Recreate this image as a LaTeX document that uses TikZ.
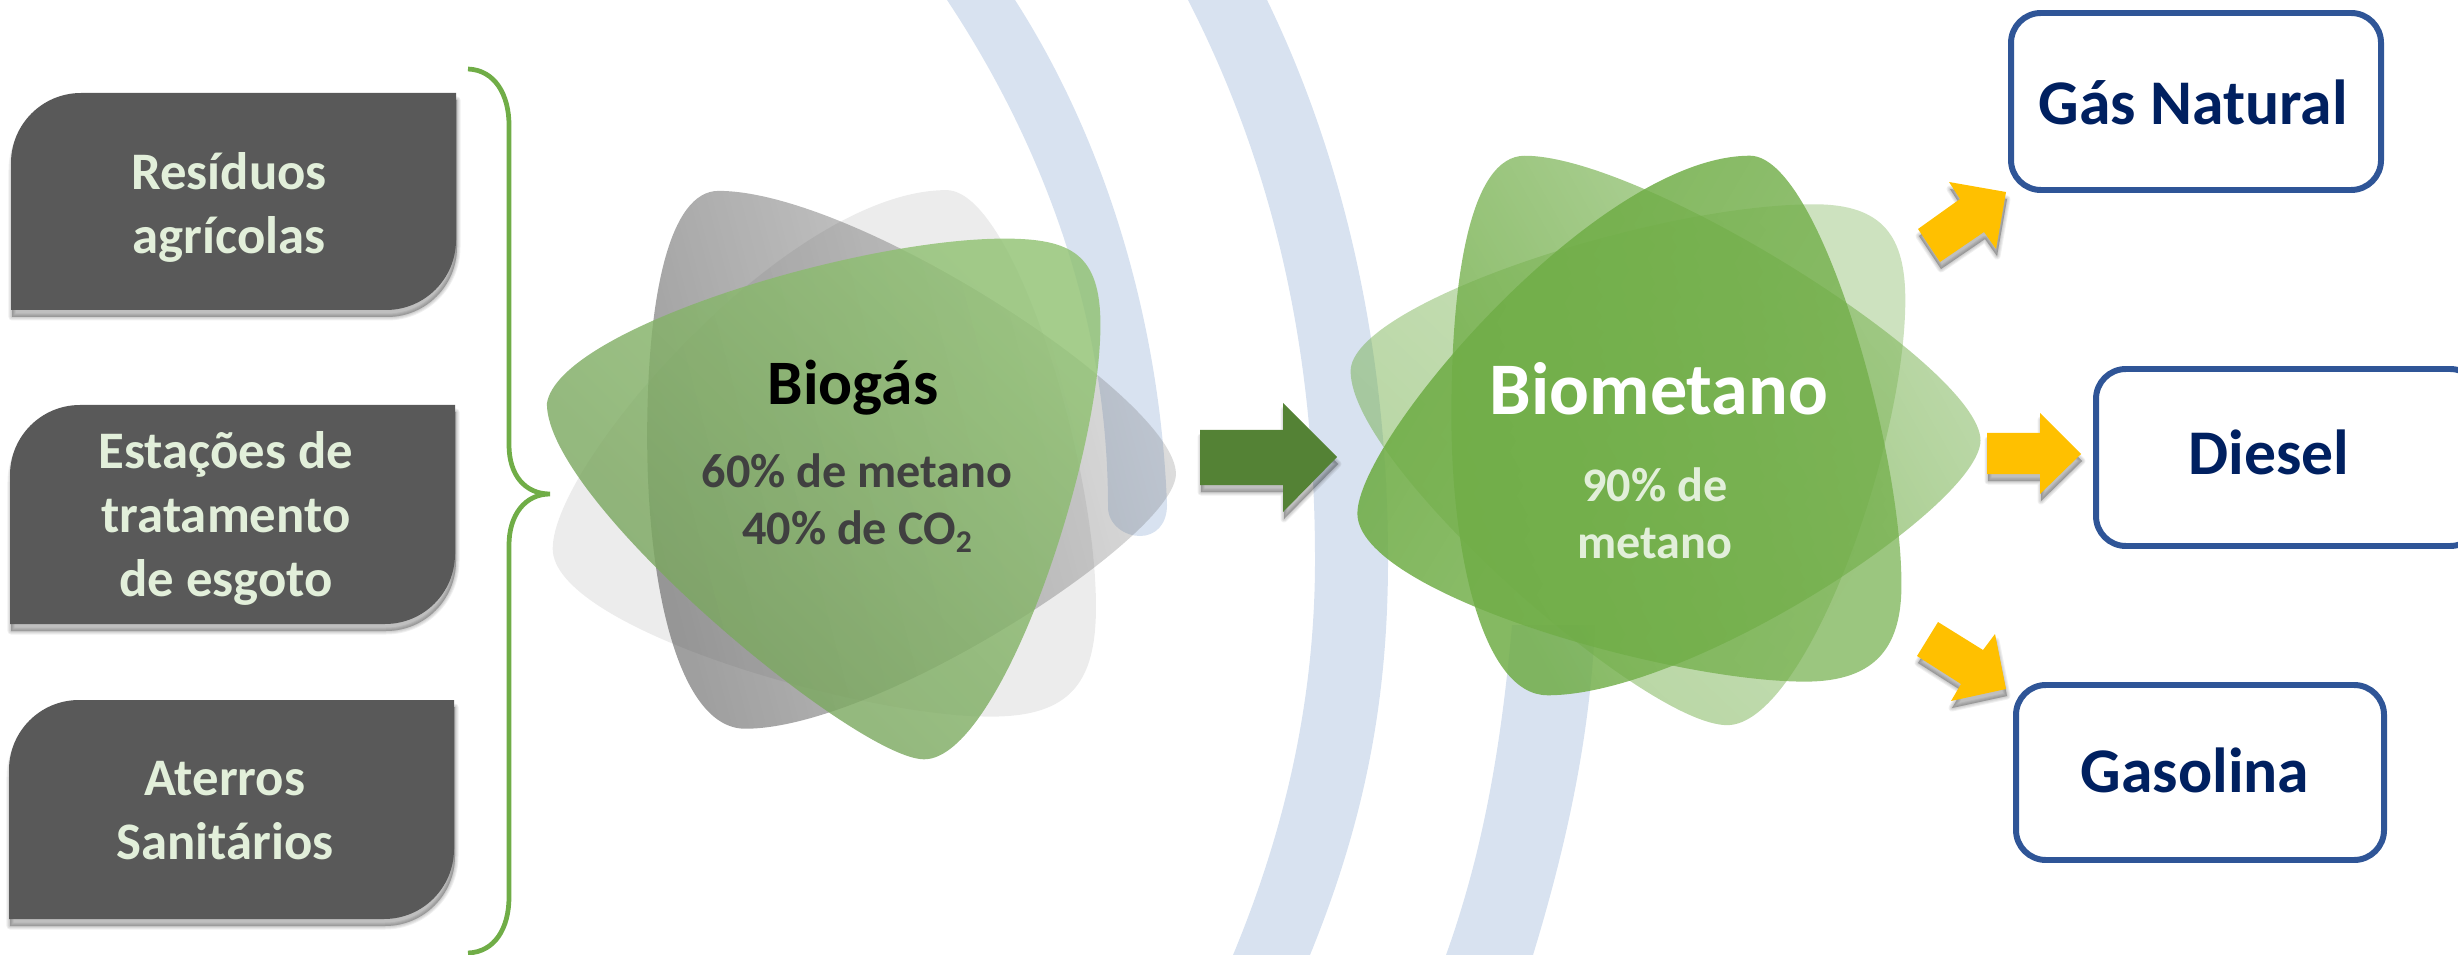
\documentclass[tikz,border=0pt]{standalone}
\usepackage{fontspec}
\setmainfont{Carlito}
\usetikzlibrary{fadings}
\definecolor{arcblue}{HTML}{D8E2F0}
\definecolor{leaf}{HTML}{70AD47}
\definecolor{leafdark}{HTML}{548235}
\definecolor{bioglight}{HTML}{91C273}
\definecolor{biogdark}{HTML}{76A15C}
\definecolor{slate}{HTML}{595959}
\definecolor{mint}{HTML}{E2EFDA}
\definecolor{gold}{HTML}{FFC000}
\definecolor{frameblue}{HTML}{2F5597}
\definecolor{navy}{HTML}{002060}
\definecolor{inkgray}{HTML}{404040}
\tikzfading[name=fadeGray, bottom color=transparent!42, top color=transparent!80]
\tikzfading[name=fadeB, bottom color=transparent!15, top color=transparent!55]
\tikzfading[name=fadeA, bottom color=transparent!8, top color=transparent!30]
\tikzfading[name=fadeC, bottom color=transparent!48, top color=transparent!65]
\tikzset{
  x=0.01cm, y=-0.01cm,
  arcband/.style={fill=arcblue, draw=none},
  sourcebox/.style={fill=slate, draw=none},
  sourcetext/.style={text=mint, font=\fontsize{15}{18.2}\selectfont\bfseries, align=center, inner sep=0pt},
  fuelbox/.style={draw=frameblue, line width=1.7pt, rounded corners=8.5pt, fill=white, inner sep=0pt},
  fueltext/.style={text=navy, font=\fontsize{18.1}{21}\selectfont\bfseries, inner sep=0pt, anchor=base},
  subtext/.style={font=\fontsize{13.7}{16.2}\selectfont\bfseries, align=center, inner sep=0pt},
  blockarrow/.style={fill=gold, draw=none},
}
\newcommand{\softshadow}[1]{%
  \begin{scope}[shift={(1,7)}]
    \fill[black, opacity=.25] #1;
    \foreach \w in {7,5,3,1}{\draw[black, opacity=.06, line width=\w*0.2845pt, line join=round] #1;}
  \end{scope}}
\newcommand{\diagbox}[4]{(#1+70,#2) -- (#3,#2) -- (#3,#4-70) .. controls +(0,38.7) and +(38.7,0) .. (#3-70,#4) -- (#1,#4) -- (#1,#2+70) .. controls +(0,-38.7) and +(-38.7,0) .. (#1+70,#2) -- cycle}
\begin{document}
\begin{tikzpicture}
\useasboundingbox (0,0) rectangle (2458,955);
% background arcs
\fill[arcband] (947,0) .. controls (1030,125) and (1108,300) .. (1108,507) .. controls (1108,525) and (1125,536) .. (1140,536) .. controls (1155,536) and (1167,525) .. (1167,505) .. controls (1160,320) and (1105,140) .. (1015,0) -- cycle;
\fill[arcband] (1188,0) .. controls (1270,160) and (1315,340) .. (1315,560) .. controls (1315,700) and (1285,830) .. (1233,955) -- (1310,955) .. controls (1365,820) and (1388,700) .. (1388,560) .. controls (1388,340) and (1340,150) .. (1267,0) -- cycle;
\fill[arcband] (1512,625) .. controls (1500,760) and (1480,860) .. (1446,955) -- (1533,955) .. controls (1565,850) and (1590,740) .. (1595,625) -- cycle;
% source boxes
\softshadow{\diagbox{11}{93}{456}{310}}
\fill[sourcebox] \diagbox{11}{93}{456}{310};
\softshadow{\diagbox{10}{405}{455}{624}}
\fill[sourcebox] \diagbox{10}{405}{455}{624};
\softshadow{\diagbox{9}{700}{454}{919}}
\fill[sourcebox] \diagbox{9}{700}{454}{919};
\node[sourcetext] (residuos) at (229,207) {Resíduos\\agrícolas};
\node[sourcetext] (estacoes) at (226,518) {Estações de\\tratamento\\de esgoto};
\node[sourcetext] (aterros) at (225,811) {Aterros\\Sanitários};
% brace
\draw[leaf, line width=1.35pt] (468,69) .. controls (495,70) and (509,95) .. (509,125) -- (509,445) .. controls (509,475) and (525,494) .. (550,494) .. controls (525,494) and (509,515) .. (509,545) -- (509,897) .. controls (509,928) and (495,952) .. (468,953);
% biogas flower
\begin{scope}[shift={(500,130)}, xscale=1/2.24, yscale=1/2.412]
\fill[gray, opacity=.15] (118,1010) .. controls (118,800) and (650,145) .. (1000,145) .. controls (1150,145) and (1335,800) .. (1335,1150) .. controls (1335,1330) and (1280,1415) .. (1100,1415) .. controls (800,1415) and (118,1200) .. (118,1010) -- cycle;
\fill[slate, path fading=fadeGray, fading angle=-75] (330,740) .. controls (330,400) and (380,147) .. (490,147) .. controls (800,147) and (1515,650) .. (1515,830) .. controls (1515,980) and (850,1445) .. (550,1445) .. controls (400,1445) and (330,1100) .. (330,740) -- cycle;
\shade[fill opacity=.82, top color=bioglight, bottom color=biogdark, shading angle=-45] (105,660) .. controls (130,480) and (800,262) .. (1130,262) .. controls (1280,262) and (1345,300) .. (1345,470) .. controls (1345,800) and (1120,1518) .. (950,1518) .. controls (800,1518) and (105,900) .. (105,660) -- cycle;
\end{scope}
% biometano flower
\begin{scope}[shift={(1300,130)}, xscale=1/2.178, yscale=1/2.529]
\fill[leaf, path fading=fadeC, fading angle=-45] (110,610) .. controls (110,440) and (770,188) .. (1120,188) .. controls (1270,188) and (1318,270) .. (1318,430) .. controls (1318,800) and (1100,1505) .. (930,1505) .. controls (750,1505) and (110,850) .. (110,610) -- cycle;
\fill[leaf, path fading=fadeB, fading angle=-60] (330,720) .. controls (330,380) and (370,65) .. (490,65) .. controls (750,65) and (1483,600) .. (1483,785) .. controls (1483,950) and (850,1430) .. (540,1430) .. controls (400,1430) and (330,1080) .. (330,720) -- cycle;
\fill[leaf, path fading=fadeA, fading angle=-120] (125,970) .. controls (125,780) and (650,65) .. (980,65) .. controls (1130,65) and (1310,800) .. (1310,1150) .. controls (1310,1300) and (1260,1395) .. (1100,1395) .. controls (800,1395) and (125,1170) .. (125,970) -- cycle;
\end{scope}
% flower text
\node[font=\fontsize{18}{21}\selectfont\bfseries, text=black, inner sep=0pt, anchor=base] (biogas) at (853,404) {Biogás};
\node[subtext, text=inkgray] (biogasmix) at (857,503) {60\% de metano\\40\% de CO\raisebox{-.35ex}{\fontsize{9}{9}\selectfont 2}};
\node[font=\fontsize{21.1}{24}\selectfont\bfseries, text=white, inner sep=0pt, anchor=base] (biometano) at (1659,414) {Biometano};
\node[subtext, text=mint] (biometanomix) at (1655,513) {90\% de\\metano};
% big arrow
\softshadow{(1200,430) -- (1283,430) -- (1283,403) -- (1337,457) -- (1283,512) -- (1283,485) -- (1200,485) -- cycle}
\fill[leafdark] (1200,430) -- (1283,430) -- (1283,403) -- (1337,457) -- (1283,512) -- (1283,485) -- (1200,485) -- cycle;
% gold arrows
\softshadow{(1918,229) -- (1960,199) -- (1949,182) -- (2006,192) -- (1996,249) -- (1984,232) -- (1940,262) -- cycle}
\fill[blockarrow] (1918,229) -- (1960,199) -- (1949,182) -- (2006,192) -- (1996,249) -- (1984,232) -- (1940,262) -- cycle;
\softshadow{(1987,433) -- (2040,433) -- (2040,413) -- (2081,454) -- (2040,494) -- (2040,474) -- (1987,474) -- cycle}
\fill[blockarrow] (1987,433) -- (2040,433) -- (2040,413) -- (2081,454) -- (2040,494) -- (2040,474) -- (1987,474) -- cycle;
\softshadow{(1938,622) -- (1983,650) -- (1995,634) -- (2006,689) -- (1951,701) -- (1961,684) -- (1917,656) -- cycle}
\fill[blockarrow] (1938,622) -- (1983,650) -- (1995,634) -- (2006,689) -- (1951,701) -- (1961,684) -- (1917,656) -- cycle;
% fuel boxes
\draw[fuelbox] (2011,13) rectangle (2381,190);
\node[fueltext] (gas) at (2193,125) {Gás Natural};
\draw[fuelbox] (2096,369) rectangle (2480,546);
\node[fueltext] (diesel) at (2269,474) {Diesel};
\draw[fuelbox] (2016,685) rectangle (2384,860);
\node[fueltext] (gasolina) at (2195,792) {Gasolina};
\end{tikzpicture}
\end{document}
